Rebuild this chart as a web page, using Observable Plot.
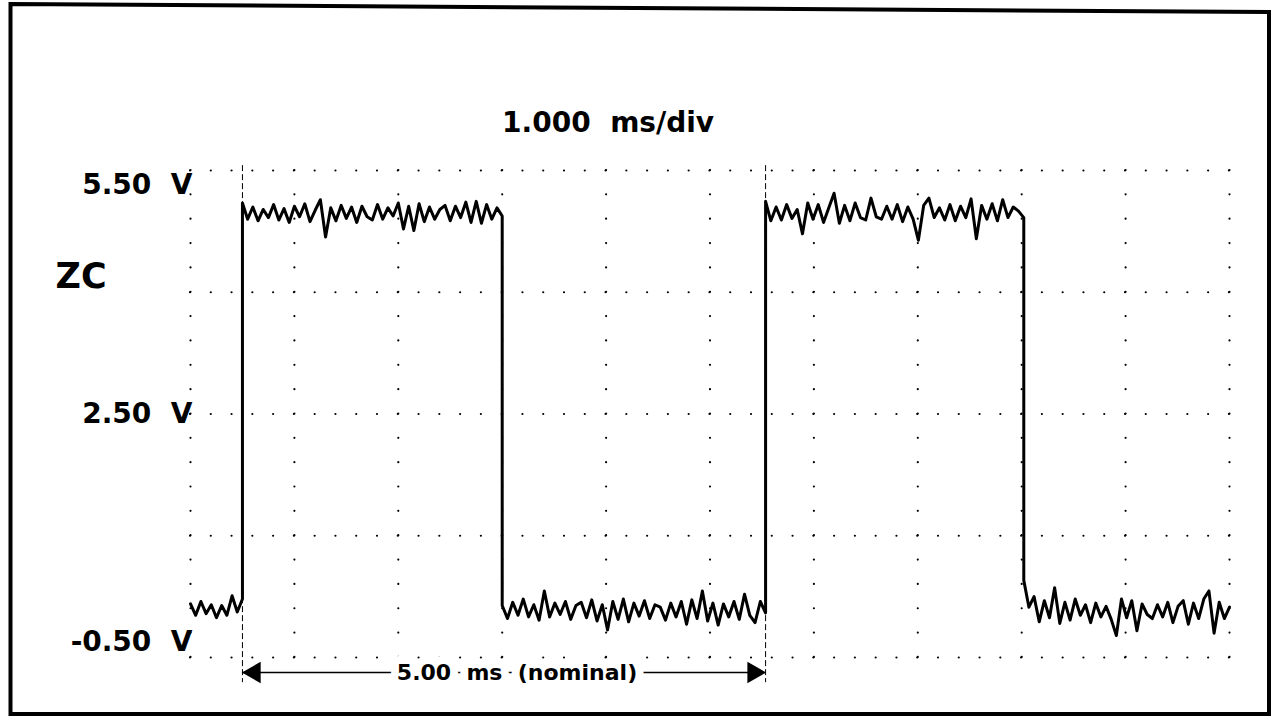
<!DOCTYPE html>
<html><head><meta charset="utf-8">
<script src="https://cdn.jsdelivr.net/npm/d3@7"></script>
<script src="https://cdn.jsdelivr.net/npm/@observablehq/plot@0.6"></script>
<style>
html,body{margin:0;padding:0;background:#fff;}
#wrap{position:relative;width:1274px;height:718px;overflow:hidden;background:#fff;}
#wrap svg{display:block;}
#border{position:absolute;left:0;top:0;pointer-events:none;}
</style></head><body><div id="wrap"></div>
<script>
// ---- texts ----
const title = "1.000\u00a0\u00a0ms/div";
const channelName = "ZC";
const yTickValues = [5.5, 2.5, -0.5];
const yTickLabels = ["5.50\u00a0\u00a0V", "2.50\u00a0\u00a0V", "-0.50\u00a0\u00a0V"];
const markerLabel = "5.00\u00a0\u00a0ms\u00a0\u00a0(nominal)";

// ---- graticule (1 ms/div horizontally, 1.5 V/div vertically) ----
const xGrid = [0, 1, 2, 3, 4, 5, 6, 7, 8, 9, 10];
const yGrid = [-0.5, 1, 2.5, 4, 5.5];

// ---- trace: segment boundaries (ms) and sampled voltages (V) ----
const edgeTimes = [0, 0.5, 3.0, 5.535, 8.02, 10];
const low0 = [0.16, 0.02, 0.19, 0.04, 0.15, -0.01, 0.14, 0.02, 0.26, 0.06, 0.22];
const high1 = [5.10, 4.90, 5.05, 4.88, 5.02, 4.92, 5.08, 4.89, 5.03, 4.86,
  5.06, 4.93, 5.09, 4.87, 5.01, 5.14, 4.68, 5.04, 4.88, 5.07,
  4.91, 5.05, 4.86, 5.06, 4.93, 4.89, 5.08, 4.90, 5.04, 4.94,
  5.10, 4.78, 5.06, 4.76, 5.09, 4.87, 5.05, 4.90, 5.02, 5.07,
  4.88, 5.06, 4.92, 5.11, 4.86, 5.12, 4.85, 5.08, 4.90, 5.04, 4.94];
const low1 = [0.14, -0.02, 0.18, 0.02, 0.22, 0.00, 0.15, -0.04, 0.32, 0.00,
  0.17, 0.03, 0.19, -0.03, 0.14, 0.18, -0.01, 0.21, -0.05, 0.15,
  -0.16, 0.19, -0.03, 0.22, -0.06, 0.17, 0.01, 0.20, -0.02, 0.15,
  0.12, -0.04, 0.17, 0.00, 0.19, -0.09, 0.21, -0.02, 0.32, -0.05,
  0.17, -0.10, 0.16, 0.00, 0.19, -0.03, 0.28, 0.02, -0.07, 0.19, 0.05];
const high2 = [5.12, 4.88, 5.05, 4.89, 5.08, 4.91, 5.02, 4.72, 5.10, 4.90,
  5.08, 4.86, 5.04, 5.22, 4.85, 5.07, 4.88, 5.10, 4.92, 4.89,
  5.16, 4.93, 4.90, 5.06, 4.90, 5.08, 4.87, 5.05, 4.90, 4.64,
  5.07, 5.16, 4.92, 5.04, 4.89, 5.08, 4.88, 5.06, 4.92, 5.15,
  4.66, 5.07, 4.90, 5.09, 4.88, 5.14, 4.92, 5.05, 5.00, 4.92];
const low2 = [0.45, 0.12, 0.25, -0.06, 0.20, -0.01, 0.36, -0.08, 0.18, -0.04,
  0.22, 0.02, 0.15, -0.07, 0.17, 0.00, 0.13, -0.03, -0.23, 0.22,
  -0.01, 0.20, -0.17, 0.16, 0.03, -0.02, 0.15, 0.00, 0.18, -0.07,
  0.13, 0.20, -0.09, 0.17, -0.02, 0.22, 0.32, -0.20, 0.18, -0.02, 0.12];

// ---- cursor markers (ms) ----
const markerTimes = [0.5, 5.535];

// build trace table
const segments = [low0, high1, low1, high2, low2];
const trace = [];
segments.forEach((seg, k) => {
  const t0 = edgeTimes[k], t1 = edgeTimes[k + 1], n = seg.length;
  seg.forEach((v, i) => trace.push({t: t0 + (i * (t1 - t0)) / (n - 1), v}));
});

const W = 1274, H = 718, ML = 190, MR = 45, MT = 170, MB = 61;
const vStep = (H - MT - MB) / ((yGrid.length - 1) * 5) - 0.002;
const hStep = (W - ML - MR) / ((xGrid.length - 1) * 5) - 0.002;
const font = {fontFamily: "DejaVu Sans", fontWeight: "bold", fill: "black"};

const chart = Plot.plot({
  width: W, height: H,
  marginLeft: ML, marginRight: MR, marginTop: MT, marginBottom: MB,
  x: {domain: [0, 10], axis: null},
  y: {domain: [-0.5, 5.5], axis: null},
  style: {fontFamily: "DejaVu Sans", background: "white", overflow: "visible"},
  marks: [
    Plot.ruleX(xGrid, {stroke: "black", strokeWidth: 2.2, strokeLinecap: "round", strokeDasharray: `0 ${vStep}`}),
    Plot.ruleY(yGrid, {stroke: "black", strokeWidth: 2.2, strokeLinecap: "round", strokeDasharray: `0 ${hStep}`}),
    Plot.ruleX(markerTimes, {y1: 5.56, y2: -0.81, stroke: "black", strokeWidth: 1, strokeDasharray: "6,3"}),
    Plot.line(trace, {x: "t", y: "v", stroke: "black", strokeWidth: 3, strokeLinejoin: "round", curve: "linear"}),
    Plot.ruleY([-0.5], {x1: markerTimes[0], x2: markerTimes[1], dy: 15, stroke: "black", strokeWidth: 1.6}),
    Plot.dot([markerTimes[0]], {x: d => d, y: -0.5, dy: 15, dx: 12, symbol: "triangle", r: 8, rotate: -90, fill: "black", stroke: "none"}),
    Plot.dot([markerTimes[1]], {x: d => d, y: -0.5, dy: 15, dx: -12, symbol: "triangle", r: 8, rotate: 90, fill: "black", stroke: "none"}),
    Plot.text([markerLabel], {x: (markerTimes[0] + markerTimes[1]) / 2, y: -0.5, dy: 15, dx: 13, text: d => d, fontSize: 22, fontFamily: "DejaVu Sans", fontWeight: "bold", fill: "white", stroke: "white", strokeWidth: 16}),
    Plot.text([markerLabel], {x: (markerTimes[0] + markerTimes[1]) / 2, y: -0.5, dy: 15, dx: 13, text: d => d, fontSize: 22, ...font}),
    Plot.text([title], {x: 4, frameAnchor: "top", dx: 2, dy: -58, text: d => d, fontSize: 28, ...font}),
    Plot.text([channelName], {x: 0, y: 4, dx: -135, dy: -15, text: d => d, textAnchor: "start", fontSize: 35, ...font}),
    Plot.text([yTickLabels[0]], {x: 0, y: yTickValues[0], dx: 2, dy: 15, text: d => d, textAnchor: "end", fontSize: 28, ...font}),
    Plot.text([yTickLabels[1]], {x: 0, y: yTickValues[1], dx: 2, dy: 0, text: d => d, textAnchor: "end", fontSize: 28, ...font}),
    Plot.text([yTickLabels[2]], {x: 0, y: yTickValues[2], dx: 2, dy: -15, text: d => d, textAnchor: "end", fontSize: 28, ...font})
  ]
});
const wrap = document.getElementById("wrap");
wrap.appendChild(chart);

// scanned page border
const ns = "http://www.w3.org/2000/svg";
const b = document.createElementNS(ns, "svg");
b.setAttribute("id", "border");
b.setAttribute("width", W); b.setAttribute("height", H);
const p = document.createElementNS(ns, "polygon");
p.setAttribute("points", "10.5,4 1269,12 1269,714 10.5,714");
p.setAttribute("fill", "none"); p.setAttribute("stroke", "black"); p.setAttribute("stroke-width", "4");
b.appendChild(p);
wrap.appendChild(b);
</script></body></html>
